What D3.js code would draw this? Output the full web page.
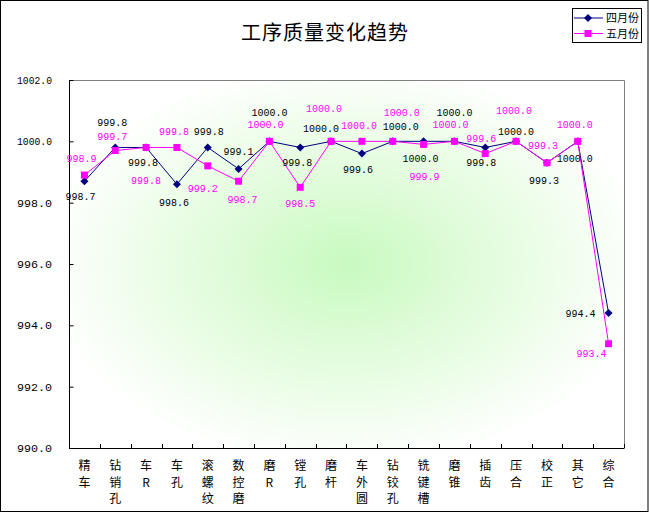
<!DOCTYPE html>
<html>
<head>
<meta charset="utf-8">
<script src="https://cdn.jsdelivr.net/npm/d3@7"></script>
<style>
  body { margin: 0; background: #fff; }
  svg { display: block; }
</style>
</head>
<body>
<div id="chart"></div>
<script>
// 数据
const categories = ['精车', '钻销孔', '车R', '车孔', '滚螺纹', '数控磨', '磨R', '镗孔', '磨杆',
  '车外圆', '钻铰孔', '铣键槽', '磨锥', '插齿', '压合', '校正', '其它', '综合'];
const april = [998.7, 999.8, 999.8, 998.6, 999.8, 999.1, 1000.0, 999.8, 1000.0,
  999.6, 1000.0, 1000.0, 1000.0, 999.8, 1000.0, 999.3, 1000.0, 994.4];
const may = [998.9, 999.7, 999.8, 999.8, 999.2, 998.7, 1000.0, 998.5, 1000.0,
  1000.0, 1000.0, 999.9, 1000.0, 999.6, 1000.0, 999.3, 1000.0, 993.4];
const yTicks = [990, 992, 994, 996, 998, 1000, 1002];
const seriesNames = ['四月份', '五月份'];

// 数据标签偏移 (相对于点的位置)
const aprilLabelOffset = [[-4, 15], [-3, -25], [-3, 15], [-3, 18], [1, -16], [0, -18], [0, -29], [-3, 15], [-10, -13],
  [-4, 15], [8, -15], [-3, 17], [0, -29], [-4, 15], [0, -10], [-3, 17], [-3, 17], [-28, 0]];
const mayLabelOffset = [[-3, -17], [-3, -15], [0, 33], [-3, -16], [-5, 22], [4, 18], [-4, -17], [0, 16], [-7, -33],
  [-3, -16], [9, -29], [1, 32], [-4, -17], [-4, -16], [-2, -31], [-4, -18], [-3, -17], [-17, 9]];

const W = 649, H = 513;
const plot = { left: 69, right: 624, top: 80, bottom: 448 };
const monoFont = '"Liberation Mono", "DejaVu Sans Mono", monospace';
const cjkFont = '"Noto Sans CJK SC", sans-serif';

const svg = d3.select('#chart').append('svg')
  .attr('width', W)
  .attr('height', H);

// 背景渐变
const defs = svg.append('defs');
const grad = defs.append('radialGradient')
  .attr('id', 'bg')
  .attr('cx', '50%').attr('cy', '50%').attr('r', '55%');
grad.append('stop').attr('offset', '0%').attr('stop-color', '#c8fac0');
grad.append('stop').attr('offset', '45%').attr('stop-color', '#e2fcdc');
grad.append('stop').attr('offset', '100%').attr('stop-color', '#ffffff');

svg.append('rect')
  .attr('x', 0.5).attr('y', 0.5)
  .attr('width', W - 1.5).attr('height', H - 2)
  .attr('fill', '#fff')
  .attr('stroke', '#000');

const x = d3.scaleBand()
  .domain(categories)
  .range([plot.left, plot.right])
  .padding(0);

const y = d3.scaleLinear()
  .domain([990, 1002])
  .range([plot.bottom, plot.top]);

const cx = d => x(d) + x.bandwidth() / 2;

svg.append('rect')
  .attr('x', plot.left).attr('y', plot.top)
  .attr('width', plot.right - plot.left)
  .attr('height', plot.bottom - plot.top)
  .attr('fill', 'url(#bg)');

// 上、右边框 (灰)
svg.append('path')
  .attr('d', `M${plot.left},${plot.top + 0.5}H${plot.right + 0.5}V${plot.bottom}`)
  .attr('fill', 'none')
  .attr('stroke', '#808080');

// 标题
svg.append('text')
  .attr('x', 325).attr('y', 40)
  .attr('text-anchor', 'middle')
  .attr('font-family', cjkFont)
  .attr('font-size', 20)
  .attr('letter-spacing', 1)
  .text('工序质量变化趋势');

// Y 轴
const yAxis = svg.append('g')
  .attr('transform', `translate(${plot.left + 0.5},0)`)
  .call(d3.axisRight(y).tickValues(yTicks).tickSize(4).tickFormat(''));
yAxis.select('.domain').attr('d', `M0,${plot.top}V${plot.bottom + 0.5}`).attr('stroke', '#000');
yAxis.selectAll('.tick line').attr('stroke', '#000');

svg.append('g').selectAll('text')
  .data(yTicks)
  .join('text')
  .attr('x', 52)
  .attr('y', d => y(d) + 4)
  .attr('text-anchor', 'end')
  .attr('font-family', monoFont)
  .attr('font-size', 11)
  .attr('textLength', 35)
  .attr('lengthAdjust', 'spacingAndGlyphs')
  .text(d => d.toFixed(1));

// X 轴
const xAxis = svg.append('g')
  .attr('transform', `translate(0,${plot.bottom + 0.5})`)
  .call(d3.axisTop(x).tickSize(0).tickFormat(''));
xAxis.select('.domain').attr('d', `M${plot.left},0H${plot.right + 0.5}`).attr('stroke', '#000');

svg.append('g').selectAll('line')
  .data(categories)
  .join('line')
  .attr('x1', d => Math.round(x(d) + x.bandwidth()) + 0.5)
  .attr('x2', d => Math.round(x(d) + x.bandwidth()) + 0.5)
  .attr('y1', plot.bottom)
  .attr('y2', plot.bottom - 4)
  .attr('stroke', '#000');

const xLabels = svg.append('g').selectAll('text')
  .data(categories)
  .join('text')
  .attr('text-anchor', 'middle')
  .attr('font-family', cjkFont)
  .attr('font-size', 12);
xLabels.each(function (d) {
  const t = d3.select(this);
  Array.from(d).forEach((ch, i) => {
    t.append('tspan')
      .attr('x', cx(d))
      .attr('y', 470 + i * 16.5)
      .text(ch);
  });
});

// 折线
const line = d3.line()
  .x((d, i) => cx(categories[i]))
  .y(d => y(d));

const series = [
  { name: seriesNames[0], values: april, color: '#000080', marker: 'diamond', offsets: aprilLabelOffset, labelColor: '#000' },
  { name: seriesNames[1], values: may, color: '#ff00ff', marker: 'square', offsets: mayLabelOffset, labelColor: '#ff00ff' }
];

function drawMarker(g, type, color) {
  if (type === 'diamond') {
    g.append('path').attr('d', 'M0,-4L4,0L0,4L-4,0Z').attr('fill', color);
  } else {
    g.append('rect').attr('x', -3.5).attr('y', -3.5).attr('width', 7).attr('height', 7).attr('fill', color);
  }
}

// 先画五月再画四月? 原图中五月线在上
[series[0], series[1]].forEach(s => {
  svg.append('path')
    .datum(s.values)
    .attr('d', line)
    .attr('fill', 'none')
    .attr('stroke', s.color)
    .attr('stroke-width', 1);
});

series.forEach(s => {
  svg.append('g').selectAll('g')
    .data(s.values)
    .join('g')
    .attr('transform', (d, i) => `translate(${cx(categories[i])},${y(d)})`)
    .each(function () { drawMarker(d3.select(this), s.marker, s.color); });
});

series.forEach(s => {
  svg.append('g').selectAll('text')
    .data(s.values)
    .join('text')
    .attr('x', (d, i) => cx(categories[i]) + s.offsets[i][0])
    .attr('y', (d, i) => y(d) + s.offsets[i][1] + 4)
    .attr('text-anchor', 'middle')
    .attr('font-family', monoFont)
    .attr('font-size', 11)
    .attr('textLength', d => d.toFixed(1).length * 6)
    .attr('lengthAdjust', 'spacingAndGlyphs')
    .attr('fill', s.labelColor)
    .text(d => d.toFixed(1));
});

// 图例
const legend = svg.append('g').attr('transform', 'translate(572,8)');
legend.append('rect')
  .attr('x', 0.5).attr('y', 0.5)
  .attr('width', 69).attr('height', 34)
  .attr('fill', '#fff')
  .attr('stroke', '#000');
series.forEach((s, i) => {
  const g = legend.append('g').attr('transform', `translate(0,${10 + i * 15.5})`);
  g.append('line')
    .attr('x1', 2).attr('x2', 31)
    .attr('stroke', s.color);
  const m = g.append('g').attr('transform', 'translate(16,0)');
  drawMarker(m, s.marker, s.color);
  g.append('text')
    .attr('x', 34).attr('y', 4)
    .attr('font-family', cjkFont)
    .attr('font-size', 11)
    .text(s.name);
});
</script>
</body>
</html>
